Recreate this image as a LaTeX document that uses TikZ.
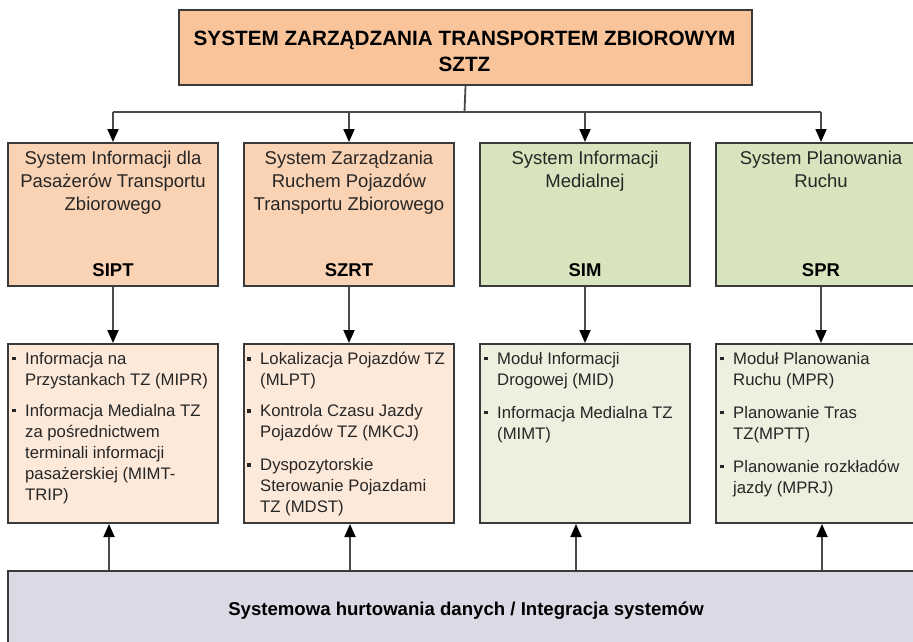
\documentclass[tikz,border=0pt]{standalone}
\usepackage{fontspec}
\setmainfont{Liberation Sans}
\usetikzlibrary{arrows.meta,calc}
\definecolor{topfill}{HTML}{F9C49A}
\definecolor{orfill}{HTML}{FAD2B4}
\definecolor{grfill}{HTML}{D8E4BD}
\definecolor{orlight}{HTML}{FDE9D9}
\definecolor{grlight}{HTML}{EBF1DE}
\definecolor{botfill}{HTML}{DDD8E6}
\definecolor{edgec}{HTML}{3A3A3A}
\definecolor{linec}{HTML}{4A4A4A}
\newcommand{\blt}{\llap{\rule[4pt]{3.5pt}{3.5pt}\hspace{9.5pt}}}
\begin{document}
\begin{tikzpicture}[x=1pt,y=-1pt,
  box/.style={draw=edgec,line width=2pt,inner sep=0pt,anchor=north west},
  sysbox/.style={box,minimum width=210pt,minimum height=143pt},
  modbox/.style={box,minimum width=210pt,minimum height=179pt},
  systitle/.style={inner sep=0pt,anchor=north,align=center,text=black!85,font=\fontsize{18.5}{23}\selectfont},
  sysabbr/.style={inner sep=0pt,anchor=base,font=\bfseries\fontsize{18.5}{23}\selectfont},
  modtext/.style={inner sep=0pt,anchor=north west,align=left,text=black!85,font=\fontsize{16.7}{21}\selectfont},
  conn/.style={draw=linec,line width=1.8pt},
  arr/.style={conn,-{Triangle[width=11pt,length=13pt,color=black]}}]
\useasboundingbox (0,0) rectangle (913,641);
% top
\node[box,fill=topfill,minimum width=573pt,minimum height=75pt] (top) at (178,9) {};
\node[inner sep=0pt,anchor=north,align=center,font=\bfseries\fontsize{20.7}{26}\selectfont] (toptext) at (464.5,31)
  {SYSTEM ZARZĄDZANIA TRANSPORTEM ZBIOROWYM\\SZTZ};
% systems
\node[sysbox,fill=orfill] (s1) at (7,142) {};
\node[sysbox,fill=orfill] (s2) at (243,142) {};
\node[sysbox,fill=grfill] (s3) at (479,142) {};
\node[sysbox,fill=grfill] (s4) at (715,142) {};
\node[systitle] (s1t) at ($(s1.north)+(0,8.5)$) {System Informacji dla\\Pasażerów Transportu\\Zbiorowego};
\node[systitle] (s2t) at ($(s2.north)+(0,8.5)$) {System Zarządzania\\Ruchem Pojazdów\\Transportu Zbiorowego};
\node[systitle] (s3t) at ($(s3.north)+(0,8.5)$) {System Informacji\\Medialnej};
\node[systitle] (s4t) at ($(s4.north)+(0,8.5)$) {System Planowania\\Ruchu};
\node[sysabbr] (s1a) at ($(s1.north)+(0,134.5)$) {SIPT};
\node[sysabbr] (s2a) at ($(s2.north)+(0,134.5)$) {SZRT};
\node[sysabbr] (s3a) at ($(s3.north)+(0,134.5)$) {SIM};
\node[sysabbr] (s4a) at ($(s4.north)+(0,134.5)$) {SPR};
% modules
\node[modbox,fill=orlight] (m1) at (7,343) {};
\node[modbox,fill=orlight] (m2) at (243,343) {};
\node[modbox,fill=grlight] (m3) at (479,343) {};
\node[modbox,fill=grlight] (m4) at (715,343) {};
\node[modtext] (m1t) at ($(m1.north west)+(18,9)$)
  {\blt Informacja na\\Przystankach TZ (MIPR)\\[10pt]\blt Informacja Medialna TZ\\za pośrednictwem\\terminali informacji\\pasażerskiej (MIMT-\\TRIP)};
\node[modtext] (m2t) at ($(m2.north west)+(17,9)$)
  {\blt Lokalizacja Pojazdów TZ\\(MLPT)\\[10pt]\blt Kontrola Czasu Jazdy\\Pojazdów TZ (MKCJ)\\[12pt]\blt Dyspozytorskie\\Sterowanie Pojazdami\\TZ (MDST)};
\node[modtext] (m3t) at ($(m3.north west)+(18,9)$)
  {\blt Moduł Informacji\\Drogowej (MID)\\[12pt]\blt Informacja Medialna TZ\\(MIMT)};
\node[modtext] (m4t) at ($(m4.north west)+(18,9)$)
  {\blt Moduł Planowania\\Ruchu (MPR)\\[12pt]\blt Planowanie Tras\\TZ(MPTT)\\[12pt]\blt Planowanie rozkładów\\jazdy (MPRJ)};
% bottom
\node[box,fill=botfill,minimum width=920pt,minimum height=100pt] (bot) at (7,570) {};
\node[inner sep=0pt,font=\bfseries\fontsize{18.6}{22}\selectfont] (bottext) at (466,611)
  {Systemowa hurtowania danych / Integracja systemów};
% connectors
\coordinate (hub) at (464.5,112);
\draw[conn] (top.south) -- (hub);
\draw[conn] (s1.north |- hub) -- (s4.north |- hub);
\foreach \i in {1,2,3,4} {
  \draw[arr] (s\i.north |- hub) -- (s\i.north);
  \draw[arr] (s\i.south) -- (m\i.north);
}
\draw[arr] ([xshift=-4pt]m1.south |- bot.north) -- ([xshift=-4pt]m1.south);
\draw[arr] ([xshift=1pt]m2.south |- bot.north) -- ([xshift=1pt]m2.south);
\draw[arr] ([xshift=-9pt]m3.south |- bot.north) -- ([xshift=-9pt]m3.south);
\draw[arr] ([xshift=1pt]m4.south |- bot.north) -- ([xshift=1pt]m4.south);
\end{tikzpicture}
\end{document}
